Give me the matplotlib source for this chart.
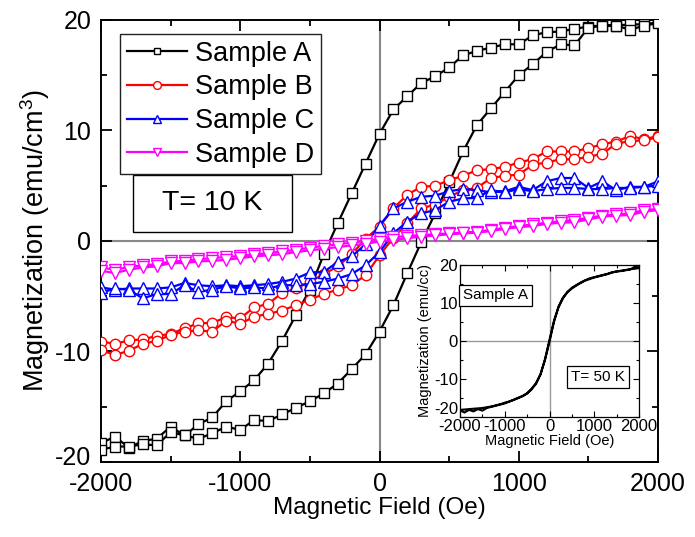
import matplotlib
matplotlib.use("Agg")
import matplotlib.pyplot as plt
from matplotlib.patches import Rectangle
import matplotlib.transforms as mtransforms
import numpy as np

plt.rcParams['font.family'] = ['Liberation Sans', 'DejaVu Sans']
plt.rcParams['mathtext.fontset'] = 'custom'
plt.rcParams['mathtext.rm'] = 'Liberation Sans'
plt.rcParams['axes.unicode_minus'] = False

# field sweeps (Oe): down branch 2000 -> -2000, up branch -2000 -> 2000
h_down = np.arange(2000, -2001, -100)
h_up = np.arange(-2000, 2001, 100)

a_down = [19.8, 19.6, 19.6, 19.5, 19.5, 19.4, 19.2, 18.95, 18.9, 18.6, 17.8,
          17.8, 17.5, 17.2, 16.8, 15.7, 14.9, 14.3, 13.1, 11.9, 9.7,
          7.0, 4.3, 1.6, -1.2, -4.4, -6.7, -9.05, -11.1, -12.6, -13.6,
          -14.5, -15.95, -16.6, -17.6, -16.8, -17.9, -18.1, -18.7, -17.7, -18.3]
a_up = [-18.9, -18.6, -18.6, -18.4, -18.5, -17.3, -17.6, -17.9, -17.4, -16.8, -17.1,
        -16.2, -16.3, -15.7, -15.1, -14.5, -13.8, -12.9, -11.6, -10.25, -8.2,
        -5.8, -2.9, -0.1, 2.5, 5.3, 8.1, 10.5, 12.0, 13.5, 15.0,
        16.0, 17.1, 17.8, 17.7, 19.3, 19.5, 19.5, 19.1, 19.5, 19.7]

b_down = [9.5, 9.2, 9.5, 9.0, 8.75, 8.4, 8.1, 8.1, 8.1, 7.4, 7.1,
          6.7, 6.5, 6.4, 5.9, 5.5, 5.0, 4.9, 4.2, 2.95, 1.3,
          0.2, -1.2, -2.3, -3.0, -3.7, -4.3, -4.7, -5.7, -6.0, -7.0,
          -6.9, -7.4, -7.45, -7.9, -8.4, -8.6, -8.9, -9.0, -9.3, -9.1]
b_up = [-9.9, -10.3, -9.95, -9.3, -9.05, -8.5, -8.2, -8.1, -8.2, -7.2, -7.5,
        -6.85, -6.6, -6.3, -5.8, -5.3, -4.8, -4.4, -4.0, -3.1, -1.3,
        0.3, 1.6, 2.95, 3.3, 4.0, 4.6, 4.8, 5.7, 5.9, 6.0,
        6.9, 7.1, 7.4, 7.4, 7.6, 7.9, 8.8, 9.05, 9.1, 9.4]

c_down = [5.4, 4.9, 4.9, 4.6, 5.4, 4.8, 5.7, 5.7, 5.4, 4.6, 4.9,
          4.5, 4.4, 4.6, 4.7, 4.5, 4.1, 4.0, 3.55, 2.95, 1.4,
          -0.3, -1.4, -1.9, -2.8, -2.85, -3.4, -3.7, -3.9, -4.0, -4.1,
          -4.0, -4.1, -4.0, -3.8, -4.2, -4.3, -4.3, -4.3, -4.4, -4.2]
c_up = [-4.7, -4.3, -4.4, -5.2, -4.8, -4.8, -4.0, -4.6, -4.4, -4.1, -4.3,
        -4.2, -4.3, -4.0, -4.0, -3.9, -3.7, -3.4, -3.0, -2.2, -1.0,
        0.7, 1.75, 2.5, 2.8, 3.55, 3.85, 3.9, 4.6, 4.4, 4.7,
        4.5, 4.7, 4.8, 4.8, 4.7, 4.7, 4.8, 4.8, 4.9, 5.0]

d_down = [2.9, 2.8, 2.5, 2.4, 2.3, 2.1, 1.9, 1.8, 1.65, 1.5, 1.35,
          1.2, 1.0, 0.85, 0.75, 0.7, 0.6, 0.55, 0.45, 0.35, 0.2,
          0.0, -0.15, -0.3, -0.45, -0.6, -0.8, -0.95, -1.1, -1.2, -1.35,
          -1.45, -1.55, -1.65, -1.8, -1.85, -2.1, -2.2, -2.35, -2.6, -2.4]
d_up = [-2.7, -2.9, -2.6, -2.4, -2.3, -2.0, -2.0, -1.85, -1.8, -1.7, -1.55,
        -1.4, -1.3, -1.2, -1.0, -0.85, -0.7, -0.55, -0.4, -0.25, -0.05,
        0.1, 0.25, 0.4, 0.5, 0.6, 0.7, 0.75, 0.9, 1.1, 1.25,
        1.35, 1.55, 1.65, 1.7, 1.95, 2.2, 2.3, 2.35, 2.65, 2.8]

# inset: sample A at 50 K
ins_down = [19.2, 19.0, 18.9, 18.6, 18.4, 18.3, 18.0, 17.6, 17.4, 17.1, 16.8,
            16.5, 16.0, 15.4, 14.7, 14.0, 12.9, 11.4, 9.0, 5.3, 0.3,
            -4.8, -8.7, -11.1, -12.6, -13.8, -14.5, -15.0, -15.5, -16.0, -16.3,
            -16.7, -17.0, -17.3, -17.5, -17.7, -17.8, -17.9, -18.0, -18.1, -18.2]
ins_up = [-18.3, -18.9, -18.2, -18.6, -18.0, -18.4, -17.7, -17.4, -17.1, -16.8, -16.5,
          -16.0, -15.6, -15.1, -14.6, -13.9, -12.8, -11.3, -8.9, -5.0, -0.2,
          5.0, 8.8, 11.2, 12.8, 13.8, 14.6, 15.3, 15.9, 16.3, 16.7,
          17.0, 17.3, 17.7, 18.1, 18.3, 18.5, 18.7, 18.8, 19.5, 19.4]

samples = [
    ("Sample A", a_down, a_up, "black", "s", 6.5),
    ("Sample B", b_down, b_up, "red", "o", 7.5),
    ("Sample C", c_down, c_up, "blue", "^", 8),
    ("Sample D", d_down, d_up, "magenta", "v", 8),
]

fig = plt.figure(figsize=(6.95, 5.37), dpi=100)
ax = fig.add_axes([0.1453, 0.1397, 0.8015, 0.8231])

ax.axhline(0, color="#888888", lw=1.5, zorder=1)
ax.axvline(0, color="#888888", lw=1.5, zorder=1)

for name, down, up, col, mk, ms in samples:
    h = np.concatenate([h_down, h_up])
    m = np.concatenate([down, up])
    ax.plot(h, m, color=col, lw=1.6, marker=mk, ms=ms, mfc="white",
            mec=col, mew=1.0, label=name, zorder=3)

ax.set_xlim(-2000, 2000)
ax.set_ylim(-20, 20)
ax.set_xticks([-2000, -1000, 0, 1000, 2000])
ax.set_yticks([-20, -10, 0, 10, 20])
ax.set_xticks(np.arange(-2000, 2001, 500), minor=True)
ax.set_yticks(np.arange(-20, 21, 5), minor=True)
ax.tick_params(which="both", direction="in", top=True, right=True, width=1.3)
ax.tick_params(which="major", length=8, labelsize=18, pad=7)
ax.tick_params(which="minor", length=4)
for s in ax.spines.values():
    s.set_linewidth(1.4)
ax.set_xlabel("Magnetic Field (Oe)", fontsize=17.5, labelpad=1)
ax.set_ylabel("Magnetization (emu/cm$^3$)", fontsize=19.5, labelpad=2)

# lift the lowest y label a little so it clears the -2000 label
lab = ax.yaxis.get_major_ticks()[0].label1
lab.set_transform(lab.get_transform() +
                  mtransforms.ScaledTranslation(0, 5 / 72, fig.dpi_scale_trans))

leg = ax.legend(loc="upper left", bbox_to_anchor=(0.035, 0.968), borderaxespad=0,
                fontsize=19.5, fancybox=False, edgecolor="#222222", framealpha=1,
                handlelength=2.2, handletextpad=0.3, labelspacing=0.28,
                borderpad=0.25, markerscale=0.75)
leg.get_frame().set_linewidth(1.0)

ax.add_patch(Rectangle((0.0575, 0.520), 0.2855, 0.129, transform=ax.transAxes,
                       fc="white", ec="black", lw=1.0, zorder=5))
ax.text(0.200, 0.585, "T= 10 K", transform=ax.transAxes, fontsize=20.5,
        ha="center", va="center", zorder=6)

# inset
axi = fig.add_axes([0.6619, 0.224, 0.2575, 0.2825])
axi.axhline(0, color="#999999", lw=1.0, zorder=1)
axi.axvline(0, color="#999999", lw=1.0, zorder=1)
axi.plot(np.concatenate([h_down, h_up]), np.concatenate([ins_down, ins_up]),
         color="black", lw=1.5, zorder=3)
axi.set_xlim(-2000, 2000)
axi.set_ylim(-20, 20)
axi.set_xticks([-2000, -1000, 0, 1000, 2000])
axi.set_yticks([-20, -10, 0, 10, 20])
axi.set_xticks(np.arange(-2000, 2001, 500), minor=True)
axi.set_yticks(np.arange(-20, 21, 5), minor=True)
axi.tick_params(which="both", direction="in", top=True, right=True, width=0.8)
axi.tick_params(which="major", length=4, labelsize=12, pad=1.5)
axi.tick_params(which="minor", length=2)
for s in axi.spines.values():
    s.set_linewidth(0.9)
axi.set_xlabel("Magnetic Field (Oe)", fontsize=10.5, labelpad=0)
axi.set_ylabel("Magnetization (emu/cc)", fontsize=10.5, labelpad=1)

lab = axi.yaxis.get_major_ticks()[0].label1
lab.set_transform(lab.get_transform() +
                  mtransforms.ScaledTranslation(0, 6 / 72, fig.dpi_scale_trans))

axi.text(0.2, 0.80, "Sample A", transform=axi.transAxes, fontsize=11,
         ha="center", va="center",
         bbox=dict(boxstyle="square,pad=0.25", fc="white", ec="black", lw=0.9))
axi.text(0.77, 0.26, "T= 50 K", transform=axi.transAxes, fontsize=11,
         ha="center", va="center",
         bbox=dict(boxstyle="square,pad=0.25", fc="white", ec="black", lw=0.9))

fig.savefig("out.png", dpi=100)
